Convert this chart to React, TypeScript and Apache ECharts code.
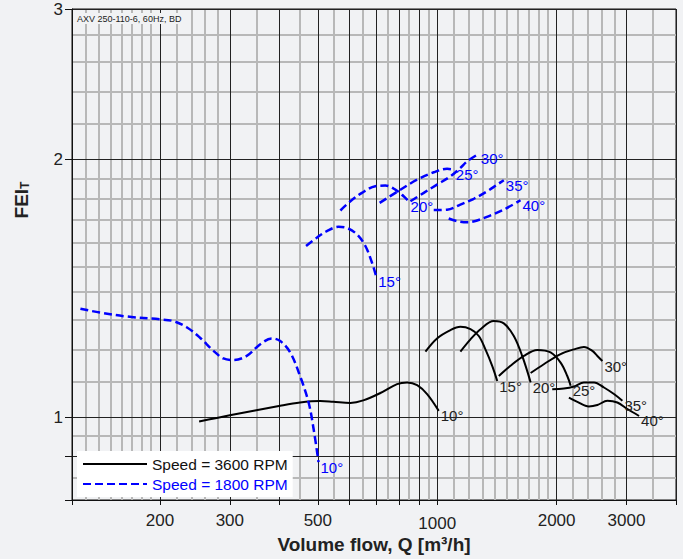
import React, { useEffect, useRef } from 'react';
import * as echarts from 'echarts';

const FONT = 'Arial, "Liberation Sans", Helvetica, sans-serif';
const BG = '#f1f2f4';
const BLUE = '#0000ff';
const BLACK = '#111111';

// Axis ticks / grid
const xLabelValues = [200, 300, 500, 1000, 2000, 3000];
const xMajorLines = [120, 200, 300, 400, 500, 600, 700, 800, 900, 1000, 2000, 3000, 4000];
const xMinorLines = [130, 140, 150, 160, 170, 180, 190, 220, 240, 260, 280, 350, 450, 550, 650, 750, 850, 950,
  1100, 1200, 1300, 1400, 1500, 1600, 1700, 1800, 1900, 2200, 2400, 2600, 2800, 3500];
const yLabelValues = [1, 2, 3];
const yMajorLines = [0.8, 0.9, 1, 2, 3];
const yMinorLines = [0.85, 0.95, 1.1, 1.2, 1.3, 1.4, 1.5, 1.6, 1.7, 1.8, 1.9, 2.2, 2.4, 2.6, 2.8];

const angleLabels = ['10°', '15°', '20°', '25°', '30°', '35°', '40°'];
const speedNames = ['Speed = 3600 RPM', 'Speed = 1800 RPM'];

// 3600 RPM curves: [Q m3/h, FEI_T]
const rpm3600_10: number[][] = [[251, 0.988], [300, 1.005], [402, 1.031], [451, 1.040], [507, 1.044], [547, 1.042], [604, 1.039], [651, 1.046], [719, 1.067], [792, 1.093], [840, 1.098], [890, 1.090], [943, 1.064], [1009, 1.017]];
const rpm3600_15: number[][] = [[934, 1.193], [999, 1.236], [1080, 1.264], [1144, 1.275], [1213, 1.267], [1273, 1.244], [1323, 1.200], [1376, 1.148], [1417, 1.102]];
const rpm3600_20: number[][] = [[1144, 1.193], [1213, 1.233], [1286, 1.267], [1389, 1.295], [1472, 1.287], [1560, 1.244], [1638, 1.179], [1720, 1.098]];
const rpm3600_25: number[][] = [[1430, 1.117], [1530, 1.148], [1654, 1.179], [1788, 1.198], [1931, 1.190], [2047, 1.158], [2128, 1.117], [2170, 1.088]];
const rpm3600_30: number[][] = [[1720, 1.126], [1857, 1.153], [2047, 1.185], [2212, 1.200], [2344, 1.208], [2462, 1.195], [2534, 1.179], [2609, 1.163]];
const rpm3600_35: number[][] = [[1950, 1.078], [2086, 1.080], [2212, 1.086], [2344, 1.098], [2485, 1.098], [2633, 1.083], [2790, 1.064], [2930, 1.045]];
const rpm3600_40: number[][] = [[2148, 1.054], [2256, 1.042], [2412, 1.029], [2534, 1.033], [2686, 1.045], [2846, 1.040], [3017, 1.022], [3228, 1.003]];

// 1800 RPM curves
const rpm1800_10: number[][] = [[126, 1.339], [141, 1.325], [165, 1.311], [200, 1.301], [216, 1.295], [234, 1.273], [252, 1.239], [273, 1.195], [289, 1.171], [306, 1.166], [331, 1.179], [358, 1.217], [383, 1.236], [402, 1.227], [426, 1.190], [451, 1.117], [474, 1.040], [488, 0.968], [502, 0.886]];
const rpm1800_15: number[][] = [[467, 1.585], [497, 1.621], [527, 1.650], [564, 1.669], [592, 1.664], [628, 1.635], [659, 1.585], [685, 1.515], [702, 1.459]];
const rpm1800_20: number[][] = [[570, 1.744], [604, 1.788], [646, 1.829], [698, 1.862], [740, 1.865], [784, 1.845], [823, 1.812], [847, 1.788]];
const rpm1800_25: number[][] = [[716, 1.780], [792, 1.834], [890, 1.895], [980, 1.933], [1059, 1.951], [1101, 1.947]];
const rpm1800_30: number[][] = [[856, 1.788], [925, 1.829], [999, 1.870], [1080, 1.912], [1144, 1.956], [1190, 1.991], [1273, 2.032]];
const rpm1800_35: number[][] = [[980, 1.746], [1059, 1.748], [1144, 1.772], [1237, 1.800], [1337, 1.837], [1417, 1.870], [1472, 1.892]];
const rpm1800_40: number[][] = [[1069, 1.707], [1123, 1.695], [1190, 1.690], [1261, 1.698], [1363, 1.721], [1472, 1.748], [1622, 1.793]];

const curves3600 = [rpm3600_10, rpm3600_15, rpm3600_20, rpm3600_25, rpm3600_30, rpm3600_35, rpm3600_40];
const curves1800 = [rpm1800_10, rpm1800_15, rpm1800_20, rpm1800_25, rpm1800_30, rpm1800_35, rpm1800_40];

function makeSeries(name: string, data: number[][], label: string, dashed: boolean) {
  const color = dashed ? BLUE : '#000000';
  return {
    type: 'line',
    name,
    data,
    xAxisIndex: 1,
    yAxisIndex: 1,
    symbol: 'none',
    smooth: 0.35,
    silent: true,
    z: dashed ? 3 : 2,
    lineStyle: { color, width: dashed ? 2.5 : 2, type: dashed ? [8, 4] : 'solid' },
    itemStyle: { color },
    emphasis: { disabled: true },
    endLabel: {
      show: true,
      formatter: label,
      color: dashed ? BLUE : '#222',
      fontSize: 15,
      fontFamily: FONT,
      distance: 2,
      offset: [0, 5],
    },
  };
}

export default function App() {
  const ref = useRef<HTMLDivElement>(null);
  useEffect(() => {
    document.body.style.margin = '0';
    document.body.style.background = BG;
    const chart = echarts.init(ref.current!, null, { renderer: 'svg' });
    const series: any[] = [];
    curves3600.forEach((c, i) => series.push(makeSeries(speedNames[0], c, angleLabels[i], false)));
    curves1800.forEach((c, i) => series.push(makeSeries(speedNames[1], c, angleLabels[i], true)));
    chart.setOption({
      animation: false,
      backgroundColor: BG,
      title: {
        text: 'AXV 250-110-6, 60Hz, BD',
        left: 75,
        top: 13,
        padding: [1, 2],
        backgroundColor: BG,
        textStyle: { fontSize: 9, fontWeight: 'normal', color: '#222', fontFamily: FONT },
      },
      legend: {
        orient: 'vertical',
        left: 77,
        top: 451,
        padding: [5, 5, 5, 5],
        itemGap: 4,
        itemWidth: 64,
        itemHeight: 14,
        backgroundColor: '#ffffff',
        selectedMode: false,
        itemStyle: { opacity: 0 },
        textStyle: { fontSize: 15.5, fontFamily: FONT },
        data: [
          { name: speedNames[0], textStyle: { color: BLACK } },
          { name: speedNames[1], textStyle: { color: BLUE } },
        ],
      },
      grid: {
        left: 72, top: 9, width: 604, height: 491,
        containLabel: false,
        outerBoundsMode: 'none',
        show: true, backgroundColor: BG, borderColor: BLACK, borderWidth: 1,
      },
      xAxis: [
        {
          type: 'log', min: 120, max: 4000, position: 'bottom', z: 0,
          axisLine: { show: false },
          axisTick: { show: false, customValues: xMinorLines },
          axisLabel: { show: false },
          splitLine: { show: true, lineStyle: { color: '#b8b8b8', width: 2 } },
        },
        {
          type: 'log', min: 120, max: 4000, position: 'bottom', z: 1,
          axisLine: { show: true, lineStyle: { color: BLACK, width: 1 } },
          axisTick: { show: true, customValues: xMajorLines, length: 5, lineStyle: { color: BLACK } },
          axisLabel: {
            customValues: xLabelValues,
            margin: 12,
            fontSize: 17,
            color: '#222',
            fontFamily: FONT,
            formatter: (v: number) => {
              const r = Math.round(v);
              return r === 1000 ? '{low|1000}' : String(r);
            },
            rich: { low: { fontSize: 17, lineHeight: 22, fontFamily: FONT, color: '#222' } },
          },
          splitLine: { show: true, lineStyle: { color: '#222', width: 1 } },
          name: 'Volume flow, Q [m³/h]',
          nameLocation: 'middle',
          nameGap: 35,
          nameMoveOverlap: false,
          nameTextStyle: { fontSize: 19, fontWeight: 'bold', color: '#222', fontFamily: FONT },
        },
      ],
      yAxis: [
        {
          type: 'log', min: 0.8, max: 3, position: 'left', z: 0,
          axisLine: { show: false },
          axisTick: { show: false, customValues: yMinorLines },
          axisLabel: { show: false },
          splitLine: { show: true, lineStyle: { color: '#b8b8b8', width: 2 } },
        },
        {
          type: 'log', min: 0.8, max: 3, position: 'left', z: 1,
          axisLine: { show: true, lineStyle: { color: BLACK, width: 1 } },
          axisTick: { show: true, customValues: yMajorLines, length: 7, lineStyle: { color: BLACK } },
          axisLabel: {
            customValues: yLabelValues,
            margin: 9,
            fontSize: 17,
            color: '#222',
            fontFamily: FONT,
            formatter: (v: number) => String(Math.round(v)),
          },
          splitLine: { show: true, lineStyle: { color: '#222', width: 1 } },
        },
      ],
      graphic: [
        {
          type: 'text',
          x: 21,
          y: 200,
          rotation: Math.PI / 2,
          style: {
            text: '{a|FEI}{b|T}',
            align: 'center',
            verticalAlign: 'middle',
            rich: {
              a: { fontSize: 19, fontWeight: 'bold', fontFamily: FONT, fill: '#222' },
              b: { fontSize: 12, fontWeight: 'bold', fontFamily: FONT, fill: '#222', verticalAlign: 'bottom', padding: [8, 0, 0, 0] },
            },
          },
        },
      ],
      series,
    });
    return () => chart.dispose();
  }, []);
  return <div ref={ref} style={{ width: 683, height: 559, background: BG }} />;
}
